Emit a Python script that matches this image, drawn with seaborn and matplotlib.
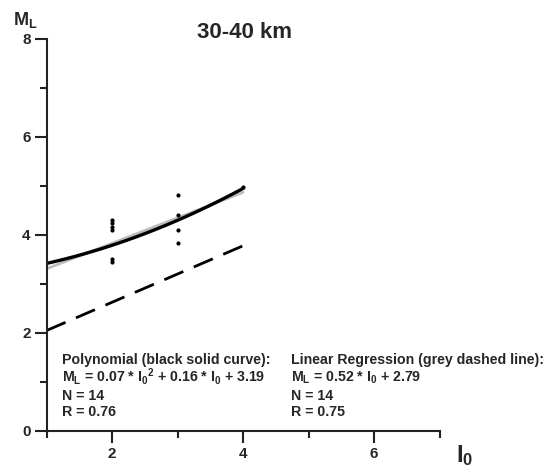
import numpy as np
import pandas as pd
import matplotlib
matplotlib.use("Agg")
import matplotlib.pyplot as plt
import seaborn as sns

# Observations: epicentral intensity I0 vs local magnitude ML (30-40 km)
obs_i0 = [2, 2, 2, 2, 2, 2, 3, 3, 3, 3, 4]
obs_ml = [4.31, 4.24, 4.17, 4.10, 3.52, 3.45, 4.82, 4.41, 4.10, 3.83, 4.98]

# Fit coefficients as printed on the chart
poly_coef = [0.07, 0.16, 3.19]   # ML = a*I0^2 + b*I0 + c
lin_coef = [0.52, 2.79]          # ML = m*I0 + k
fit_range = [1, 4]

# Lower dashed line endpoints
dash_i0 = [1, 4]
dash_ml = [2.05, 3.78]

x_ticks = [1, 2, 3, 4, 5, 6, 7]
x_labels = ["", "2", "", "4", "", "6", ""]
y_ticks = [0, 1, 2, 3, 4, 5, 6, 7, 8]
y_labels = ["0", "", "2", "", "4", "", "6", "", "8"]

sns.set_style("white")
plt.rcParams["font.family"] = ["Liberation Sans", "DejaVu Sans"]
plt.rcParams["font.weight"] = "bold"
plt.rcParams["mathtext.fontset"] = "custom"
plt.rcParams["mathtext.rm"] = "Liberation Sans:bold"
plt.rcParams["mathtext.it"] = "Liberation Sans:bold"
plt.rcParams["mathtext.bf"] = "Liberation Sans:bold"
plt.rcParams["mathtext.default"] = "rm"

fig = plt.figure(figsize=(5.52, 4.72), dpi=100)
ax = fig.add_axes([46.5 / 552, 41 / 472, (439.5 - 46.5) / 552, (431 - 39) / 472])

grid = np.linspace(fit_range[0], fit_range[1], 100)
poly_df = pd.DataFrame({"I0": grid, "ML": np.polyval(poly_coef, grid)})
lin_df = pd.DataFrame({"I0": grid, "ML": np.polyval(lin_coef, grid)})
dash_df = pd.DataFrame({"I0": dash_i0, "ML": dash_ml})
obs_df = pd.DataFrame({"I0": obs_i0, "ML": obs_ml})

sns.lineplot(data=lin_df, x="I0", y="ML", ax=ax, color="#bdbdbd", lw=2.0)
sns.lineplot(data=poly_df, x="I0", y="ML", ax=ax, color="black", lw=2.4)
sns.lineplot(data=dash_df, x="I0", y="ML", ax=ax, color="black", lw=2.0,
             dashes=False, linestyle=(0, (7.45, 4.1)))
sns.scatterplot(data=obs_df, x="I0", y="ML", ax=ax, color="black", s=9,
                edgecolor="black", linewidth=0, zorder=5, clip_on=False)

ax.set_xlim(1, 7)
ax.set_ylim(0, 8)
ax.set_xticks(x_ticks)
ax.set_xticklabels(x_labels)
ax.set_yticks(y_ticks)
ax.set_yticklabels(y_labels)
ax.set_xlabel("")
ax.set_ylabel("")

for s in ["top", "right"]:
    ax.spines[s].set_visible(False)
for s in ["left", "bottom"]:
    ax.spines[s].set_linewidth(1.5)
    ax.spines[s].set_color("#222222")

ax.tick_params(axis="both", direction="out", length=8.5, width=1.5,
               color="#222222", labelsize=11, pad=3, bottom=True, left=True)
# shorter ticks at the unlabelled positions
for axis, labels in ((ax.xaxis, x_labels), (ax.yaxis, y_labels)):
    for tick, lab in zip(axis.get_major_ticks(), labels):
        if lab == "":
            tick.tick1line.set_markersize(5)
for lab in ax.get_xticklabels() + ax.get_yticklabels():
    lab.set_fontweight("bold")

fig.text(245 / 552, 1 - 32 / 472, "30-40 km", fontsize=16, fontweight="bold",
         ha="center", va="center")
fig.text(13 / 552, 1 - 20 / 472, r"M$_L$", fontsize=13, fontweight="bold",
         ha="left", va="center")
fig.text(456 / 552, 1 - 456 / 472, r"I$_0$", fontsize=17, fontweight="bold",
         ha="left", va="center")

poly_lines = ["Polynomial (black solid curve):",
              r"M$_L$ = 0.07 * I$_0$$^2$ + 0.16 * I$_0$ + 3.19",
              "N = 14",
              "R = 0.76"]
lin_lines = ["Linear Regression (grey dashed line):",
             r"M$_L$ = 0.52 * I$_0$ + 2.79",
             "N = 14",
             "R = 0.75"]
line_y = [1.37, 1.0, 0.63, 0.31]
for txt, yy in zip(poly_lines, line_y):
    ax.text(1.24, yy, txt, fontsize=10.2, fontweight="bold", ha="left",
            va="baseline")
for txt, yy in zip(lin_lines, line_y):
    ax.text(4.74, yy, txt, fontsize=10.2, fontweight="bold", ha="left",
            va="baseline", clip_on=False)

fig.savefig("out.png", dpi=100)
